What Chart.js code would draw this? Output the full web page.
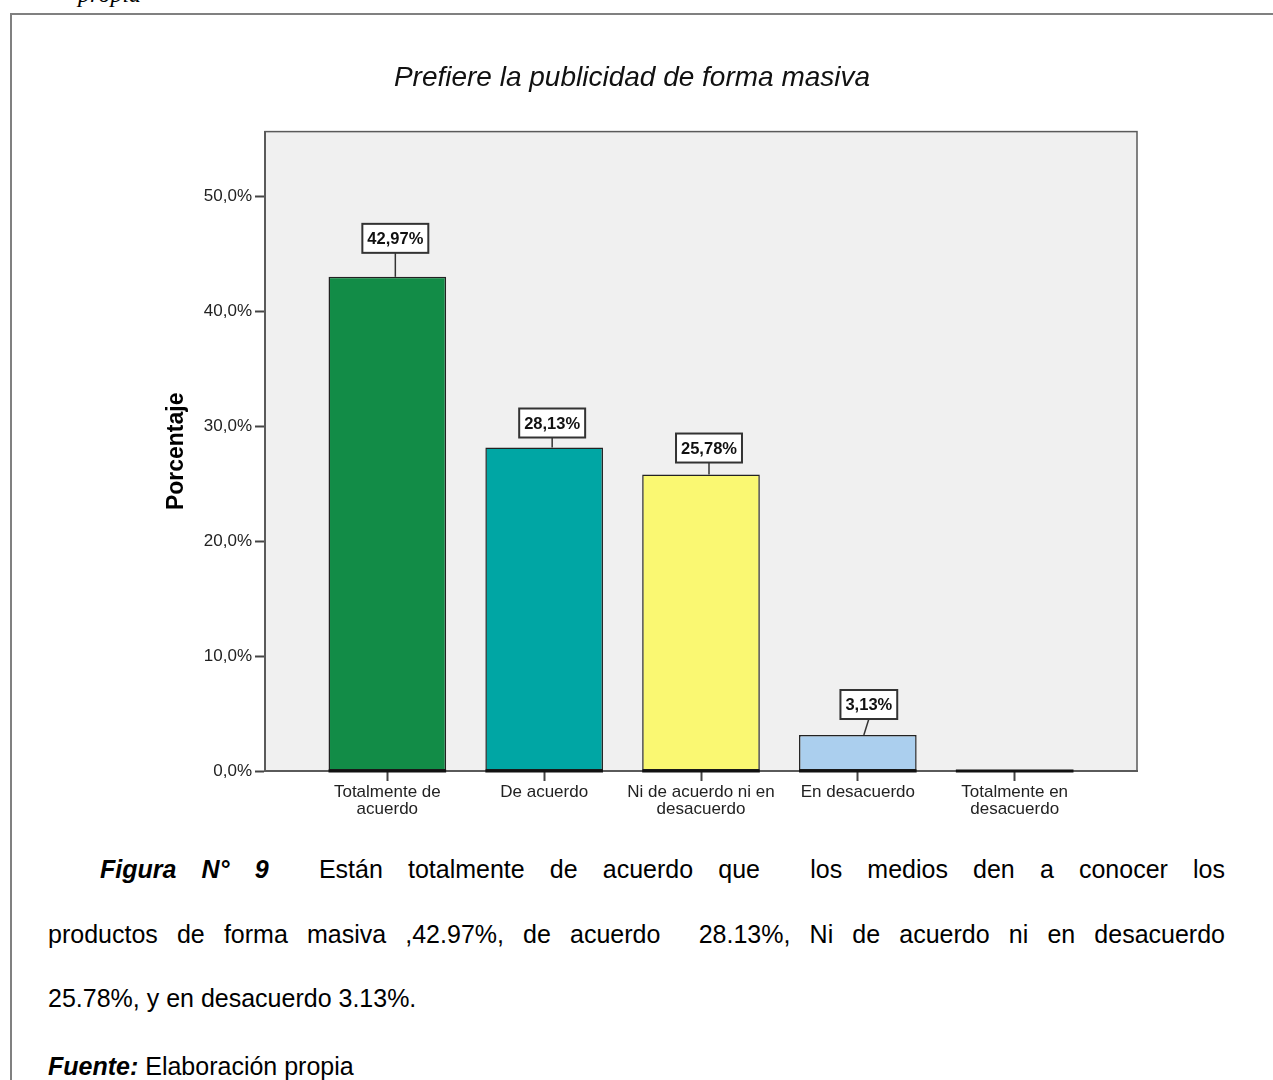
<!DOCTYPE html>
<html lang="es">
<head>
<meta charset="utf-8">
<title>Prefiere la publicidad de forma masiva</title>
<script src="https://cdn.jsdelivr.net/npm/chart.js@4.4.1/dist/chart.umd.min.js"></script>
<style>
    html, body {
        margin: 0;
        padding: 0;
        background: #fff;
    }
    body {
        position: relative;
        width: 1273px;
        height: 1080px;
        overflow: hidden;
        font-family: "Liberation Sans", Arial, sans-serif;
        color: #000;
    }
    .prev-note {
        position: absolute;
        left: 78px;
        top: -19px;
        font-family: "Liberation Serif", "Times New Roman", serif;
        font-style: italic;
        font-size: 24px;
        color: #000;
    }
    .frame {
        position: absolute;
        left: 10px;
        top: 13px;
        width: 1300px;
        height: 1100px;
        border-top: 2px solid #808080;
        border-left: 2px solid #808080;
    }
    #chartWrap {
        position: absolute;
        left: 0;
        top: 0;
        width: 1273px;
        height: 840px;
    }
    .caption {
        position: absolute;
        left: 48px;
        width: 1177px;
        font-size: 25px;
        line-height: 28px;
    }
    .caption.just {
        text-align: justify;
        text-align-last: justify;
    }
    .caption b {
        font-style: italic;
    }
</style>
</head>
<body>
<div class="prev-note">propia</div>
<div class="frame"></div>

<div id="chartWrap"><canvas id="masivaChart" width="1273" height="840"></canvas></div>

<div class="caption just" style="top: 855px; padding-left: 52px; width: 1125px;"><b>Figura N° 9</b>&nbsp; Están totalmente de acuerdo que &nbsp;los medios den a conocer los</div>
<div class="caption just" style="top: 920px;">productos de forma masiva ,42.97%, de acuerdo &nbsp;28.13%, Ni de acuerdo ni en desacuerdo</div>
<div class="caption" style="top: 984px;">25.78%, y en desacuerdo 3.13%.</div>
<div class="caption" style="top: 1052px;"><b>Fuente:</b> Elaboración propia</div>

<script>
// Datos de la pregunta
const categories = [
    ["Totalmente de", "acuerdo"],
    ["De acuerdo"],
    ["Ni de acuerdo ni en", "desacuerdo"],
    ["En desacuerdo"],
    ["Totalmente en", "desacuerdo"],
];
const percentages = [42.97, 28.13, 25.78, 3.13, 0];
const yTickValues = [0, 10, 20, 30, 40, 50];

const barColors = ["#128c47", "#00a6a4", "#faf872", "#abcfee", "#e0e0e0"];
const FONT = "'Liberation Sans', Arial, sans-serif";

function formatPercent(value, decimals) {
    return value.toFixed(decimals).replace(".", ",") + "%";
}

// Fondo gris y marco del área de trazado
const plotFrame = {
    id: "plotFrame",
    beforeDraw(chart) {
        const { ctx, chartArea: a } = chart;
        ctx.save();
        ctx.fillStyle = "#f0f0f0";
        ctx.fillRect(a.left, a.top, a.right - a.left, a.bottom - a.top);
        ctx.strokeStyle = "#5a5a5a";
        ctx.lineWidth = 1.5;
        ctx.strokeRect(a.left, a.top, a.right - a.left, a.bottom - a.top);
        ctx.restore();
    },
};

// Línea negra gruesa en la base de cada barra (también para la de 0%)
const barBase = {
    id: "barBase",
    afterDatasetsDraw(chart) {
        const { ctx, chartArea: a } = chart;
        const meta = chart.getDatasetMeta(0);
        ctx.save();
        ctx.strokeStyle = "#111";
        ctx.lineWidth = 3;
        meta.data.forEach((bar) => {
            ctx.beginPath();
            ctx.moveTo(bar.x - bar.width / 2, a.bottom);
            ctx.lineTo(bar.x + bar.width / 2, a.bottom);
            ctx.stroke();
        });
        ctx.restore();
    },
};

// Etiquetas de valor en recuadro con línea de unión
const valueBoxes = {
    id: "valueBoxes",
    afterDatasetsDraw(chart, args, opts) {
        const { ctx } = chart;
        const meta = chart.getDatasetMeta(0);
        const values = chart.data.datasets[0].data;
        ctx.save();
        ctx.font = "bold 16.5px " + FONT;
        ctx.textAlign = "center";
        ctx.textBaseline = "middle";
        meta.data.forEach((bar, i) => {
            const v = values[i].y;
            if (!v) return;
            const place = opts.places[i];
            const text = formatPercent(v, 2);
            const w = ctx.measureText(text).width + 10;
            const h = 29;
            const cx = bar.x + place.dx;
            const bottom = bar.y - place.gap;
            ctx.strokeStyle = "#333";
            ctx.lineWidth = 1.5;
            ctx.beginPath();
            ctx.moveTo(bar.x + place.lineDx, bar.y);
            ctx.lineTo(cx, bottom);
            ctx.stroke();
            ctx.fillStyle = "#fff";
            ctx.fillRect(cx - w / 2, bottom - h, w, h);
            ctx.lineWidth = 2;
            ctx.strokeRect(cx - w / 2, bottom - h, w, h);
            ctx.fillStyle = "#111";
            ctx.fillText(text, cx, bottom - h / 2 + 1);
        });
        ctx.restore();
    },
};

const ctx = document.getElementById("masivaChart");

new Chart(ctx, {
    type: "bar",
    data: {
        datasets: [
            {
                data: percentages.map((v, i) => ({ x: i, y: v })),
                backgroundColor: barColors,
                borderColor: "#222",
                borderWidth: 1.5,
                borderSkipped: false,
                categoryPercentage: 1,
                barPercentage: 0.75,
            },
        ],
    },
    options: {
        responsive: false,
        animation: false,
        devicePixelRatio: 1,
        layout: {
            padding: { left: 127, right: 136, top: 10, bottom: 9 },
        },
        plugins: {
            legend: { display: false },
            tooltip: { enabled: false },
            title: {
                display: true,
                text: "Prefiere la publicidad de forma masiva",
                color: "#111",
                font: { family: FONT, size: 28, style: "italic", weight: "normal", lineHeight: 1.2 },
                padding: { top: 51, bottom: 37 },
            },
            valueBoxes: {
                places: [
                    { dx: 8, gap: 24, lineDx: 8 },
                    { dx: 8, gap: 10, lineDx: 8 },
                    { dx: 8, gap: 12, lineDx: 8 },
                    { dx: 11, gap: 16, lineDx: 6 },
                    { dx: 8, gap: 12, lineDx: 8 },
                ],
            },
        },
        scales: {
            x: {
                type: "linear",
                offset: false,
                min: -0.78,
                max: categories.length - 1 + 0.78,
                afterBuildTicks: (axis) => {
                    axis.ticks = categories.map((c, i) => ({ value: i }));
                },
                afterFit: (axis) => {
                    axis.height = 60;
                },
                grid: {
                    offset: false,
                    drawOnChartArea: false,
                    drawTicks: true,
                    tickLength: 10,
                    tickWidth: 2,
                    tickColor: "#444",
                },
                border: { color: "#5a5a5a", width: 2 },
                ticks: {
                    color: "#222",
                    padding: 3,
                    maxRotation: 0,
                    autoSkip: false,
                    font: { family: FONT, size: 17, lineHeight: 1.0 },
                    callback: (value) => categories[value],
                },
            },
            y: {
                min: 0,
                max: 55.6,
                afterBuildTicks: (axis) => {
                    axis.ticks = yTickValues.map((v) => ({ value: v }));
                },
                afterFit: (axis) => {
                    axis.width = 138;
                },
                grid: {
                    drawOnChartArea: false,
                    drawTicks: true,
                    tickLength: 10,
                    tickWidth: 2,
                    tickColor: "#444",
                },
                border: { color: "#5a5a5a", width: 2 },
                ticks: {
                    color: "#222",
                    padding: 3,
                    font: { family: FONT, size: 17 },
                    callback: (value) => formatPercent(value, 1),
                },
                title: {
                    display: true,
                    text: "Porcentaje",
                    color: "#000",
                    font: { family: FONT, size: 23, weight: "bold", lineHeight: 1.2 },
                    padding: { top: 36, bottom: 4 },
                },
            },
        },
    },
    plugins: [plotFrame, barBase, valueBoxes],
});
</script>
</body>
</html>
